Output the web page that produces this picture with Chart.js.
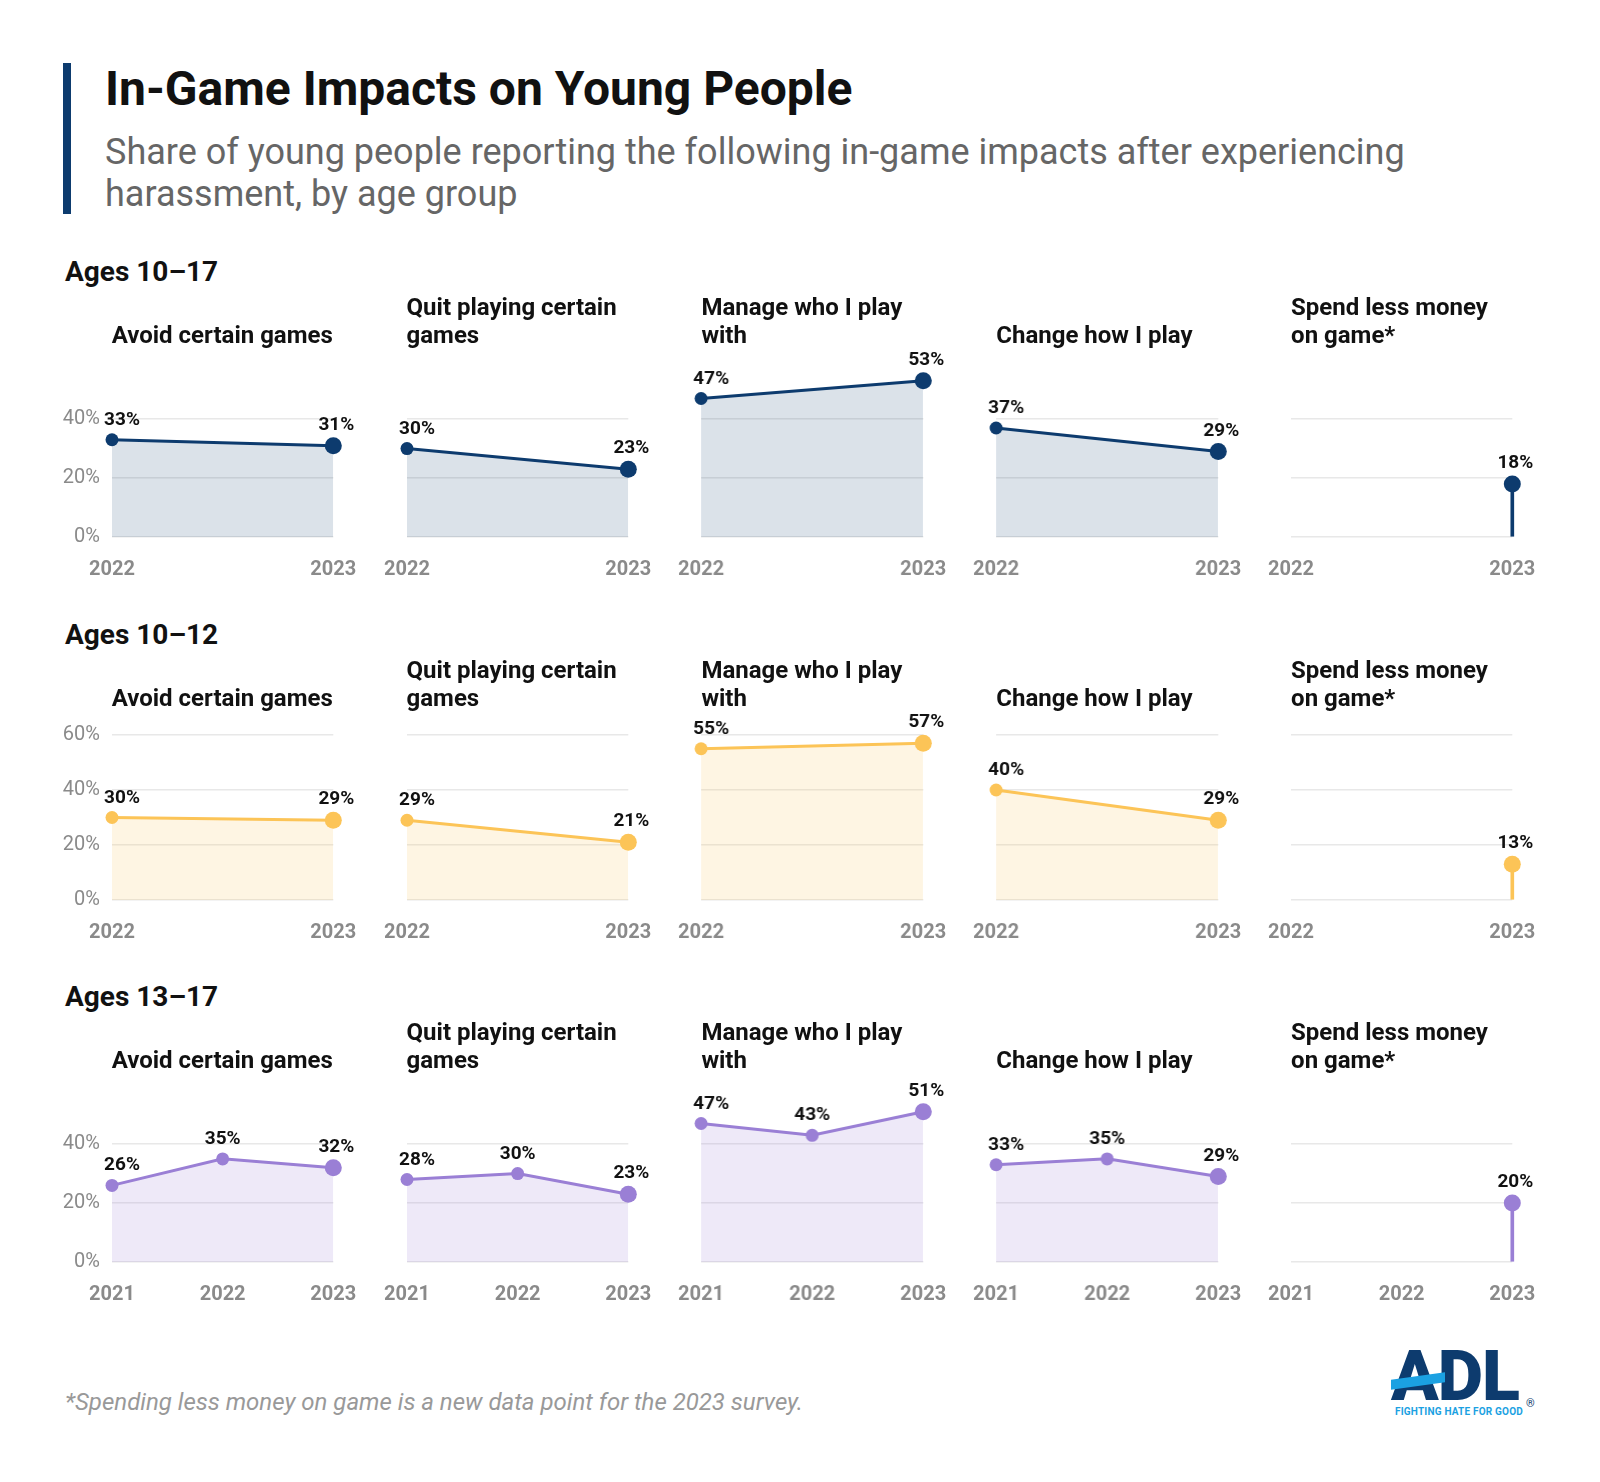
<!DOCTYPE html>
<html>
<head>
<meta charset="utf-8">
<script src="https://cdn.jsdelivr.net/npm/chart.js@4.4.1/dist/chart.umd.min.js"></script>
<style>
  body { margin: 0; background: #fff; font-family: Roboto, "Noto Sans", sans-serif; }
  #page { position: relative; width: 1600px; height: 1482px; overflow: hidden; background: #fff; }
  .accent { position: absolute; left: 63px; top: 63px; width: 8px; height: 151px; background: #0d3b6e; }
  h1 { position: absolute; left: 105px; top: 62px; margin: 0; font-size: 48px; line-height: 54px; font-weight: 700; color: #111; }
  .sub { position: absolute; left: 105px; top: 131px; width: 1400px; margin: 0; font-size: 36px; line-height: 42px; color: #666; }
  .row-title { position: absolute; left: 65px; margin: 0; font-size: 28px; line-height: 32px; font-weight: 700; color: #111; }
  .panel-title { position: absolute; width: 260px; height: 56px; display: flex; flex-direction: column; justify-content: flex-end;
    font-size: 24px; line-height: 28px; font-weight: 700; color: #111; white-space: pre-line; z-index: 2; }
  .panel { position: absolute; }
  .note { position: absolute; left: 65px; top: 1387px; margin: 0; font-size: 24px; line-height: 30px; font-style: italic; color: #999; }
  .logo-text { position: absolute; left: 1391px; top: 1341px; font-size: 70px; line-height: 70px; font-weight: 900; letter-spacing: -1px; color: #0d3b6e; }
  .logo-stripe { position: absolute; left: 1391px; top: 1376px; width: 54px; height: 10px; background: #1ba1e2; transform: skewY(-8deg); }
  .logo-reg { position: absolute; left: 1526px; top: 1398px; font-size: 11px; line-height: 12px; color: #0d3b6e; }
  .logo-tag { position: absolute; left: 1395px; top: 1405px; font-size: 10px; line-height: 14px; font-weight: 700; color: #1ba1e2; letter-spacing: 0.2px; }
</style>
</head>
<body>
<div id="page">
  <div class="accent"></div>
  <h1>In-Game Impacts on Young People</h1>
  <p class="sub">Share of young people reporting the following in-game impacts after experiencing<br>harassment, by age group</p>
  <p class="note">*Spending less money on game is a new data point for the 2023 survey.</p>
  <div class="logo-text">ADL</div>
  <div class="logo-stripe"></div>
  <div class="logo-reg">®</div>
  <div class="logo-tag">FIGHTING HATE FOR GOOD</div>
</div>
<script>
const rowTitles = ["Ages 10–17", "Ages 10–12", "Ages 13–17"];
const impactTitles = [
  "Avoid certain games",
  "Quit playing certain\ngames",
  "Manage who I play\nwith",
  "Change how I play",
  "Spend less money\non game*",
];

const years1017 = ["2022", "2023"];
const years1012 = ["2022", "2023"];
const years1317 = ["2021", "2022", "2023"];

// one array per impact, same order as impactTitles
const values1017 = [[33, 31], [30, 23], [47, 53], [37, 29], [null, 18]];
const values1012 = [[30, 29], [29, 21], [55, 57], [40, 29], [null, 13]];
const values1317 = [[26, 35, 32], [28, 30, 23], [47, 43, 51], [33, 35, 29], [null, null, 20]];

const yTicks1017 = [0, 20, 40];
const yTicks1012 = [0, 20, 40, 60];
const yTicks1317 = [0, 20, 40];

// the new survey item is shown as a single stem
const stemImpact = 4;

const rows = [
  { title: rowTitles[0], years: years1017, values: values1017, ticks: yTicks1017, max: 56,
    line: "#0d3b6e", fill: "rgba(13,59,110,0.15)", bottom: 537 },
  { title: rowTitles[1], years: years1012, values: values1012, ticks: yTicks1012, max: 60,
    line: "#fcc457", fill: "rgba(252,196,87,0.17)", bottom: 900 },
  { title: rowTitles[2], years: years1317, values: values1317, ticks: yTicks1317, max: 56,
    line: "#9a7fd5", fill: "rgba(154,127,213,0.17)", bottom: 1261.7 },
];

Chart.defaults.font.family = "Roboto, 'Noto Sans', sans-serif";

const pointLabels = {
  id: "pointLabels",
  afterDatasetsDraw(chart) {
    const ctx = chart.ctx;
    const meta = chart.getDatasetMeta(0);
    const data = chart.data.datasets[0].data;
    const last = data.length - 1;
    ctx.save();
    ctx.font = "bold 19px Roboto, 'Noto Sans', sans-serif";
    ctx.fillStyle = "#111";
    ctx.textAlign = "center";
    ctx.textBaseline = "alphabetic";
    meta.data.forEach((pt, i) => {
      if (data[i] == null) return;
      const dx = i === 0 ? 10 : i === last ? 3 : 0;
      const dy = i === last ? 16 : 15;
      ctx.fillText(data[i] + "%", pt.x + dx, pt.y - dy);
    });
    ctx.restore();
  },
};

const page = document.getElementById("page");
const plotW = 221.3;
const plotH = 165;
const padTop = 45;
const axisH = 40;
const yAxisW = 50;

rows.forEach((row, r) => {
  const plotTop = row.bottom - plotH;

  const rt = document.createElement("div");
  rt.className = "row-title";
  rt.textContent = row.title;
  rt.style.top = (plotTop - 100 - 16) + "px";
  page.appendChild(rt);

  row.values.forEach((series, c) => {
    const plotX = 111.7 + c * 294.85;

    const pt = document.createElement("div");
    pt.className = "panel-title";
    pt.textContent = impactTitles[c];
    pt.style.left = plotX + "px";
    pt.style.top = (plotTop - 23 - 56) + "px";
    page.appendChild(pt);

    const first = c === 0;
    const padL = first ? yAxisW : 25;
    const box = document.createElement("div");
    box.className = "panel";
    box.style.left = (plotX - padL) + "px";
    box.style.top = (plotTop - padTop) + "px";
    box.style.width = (padL + plotW + 25) + "px";
    box.style.height = (padTop + plotH + axisH) + "px";
    const canvas = document.createElement("canvas");
    box.appendChild(canvas);
    page.appendChild(box);

    const last = series.length - 1;
    const datasets = [{
      type: "line",
      data: series,
      borderColor: row.line,
      borderWidth: 3,
      backgroundColor: row.fill,
      fill: c === stemImpact ? false : "origin",
      tension: 0,
      pointRadius: series.map((v, i) => (i === last ? 8.5 : 6.5)),
      pointBackgroundColor: row.line,
      pointBorderWidth: 0,
      clip: false,
      order: 0,
    }];
    if (c === stemImpact) {
      datasets.push({
        type: "bar",
        data: series,
        backgroundColor: row.line,
        barThickness: 3,
        grouped: false,
        clip: false,
        order: 1,
      });
    }

    new Chart(canvas, {
      type: "line",
      data: { labels: row.years, datasets: datasets },
      options: {
        responsive: true,
        maintainAspectRatio: false,
        animation: false,
        events: [],
        layout: { autoPadding: false, padding: { left: first ? 0 : 25, right: 25, top: padTop, bottom: 0 } },
        plugins: { legend: { display: false }, tooltip: { enabled: false } },
        scales: {
          x: {
            type: "category",
            offset: false,
            grid: { display: false, offset: false },
            border: { display: false },
            ticks: { color: "#8a8a8a", font: { size: 20, weight: "bold" }, padding: 13, maxRotation: 0, autoSkip: false },
            afterFit(scale) {
              scale.height = axisH;
              scale.paddingLeft = 0;
              scale.paddingRight = 0;
            },
          },
          y: {
            min: 0,
            max: row.max,
            grid: { color: "#e8e8e8", lineWidth: 1.5, drawTicks: false },
            border: { display: false },
            ticks: { display: first, color: "#8a8a8a", font: { size: 20 }, padding: 12, callback: (v) => v + "%" },
            afterBuildTicks(scale) {
              scale.ticks = row.ticks.map((v) => ({ value: v }));
            },
            afterFit(scale) {
              scale.width = first ? yAxisW : 0;
              scale.paddingTop = 0;
              scale.paddingBottom = 0;
            },
          },
        },
      },
      plugins: [pointLabels],
    });
  });
});
</script>
</body>
</html>
